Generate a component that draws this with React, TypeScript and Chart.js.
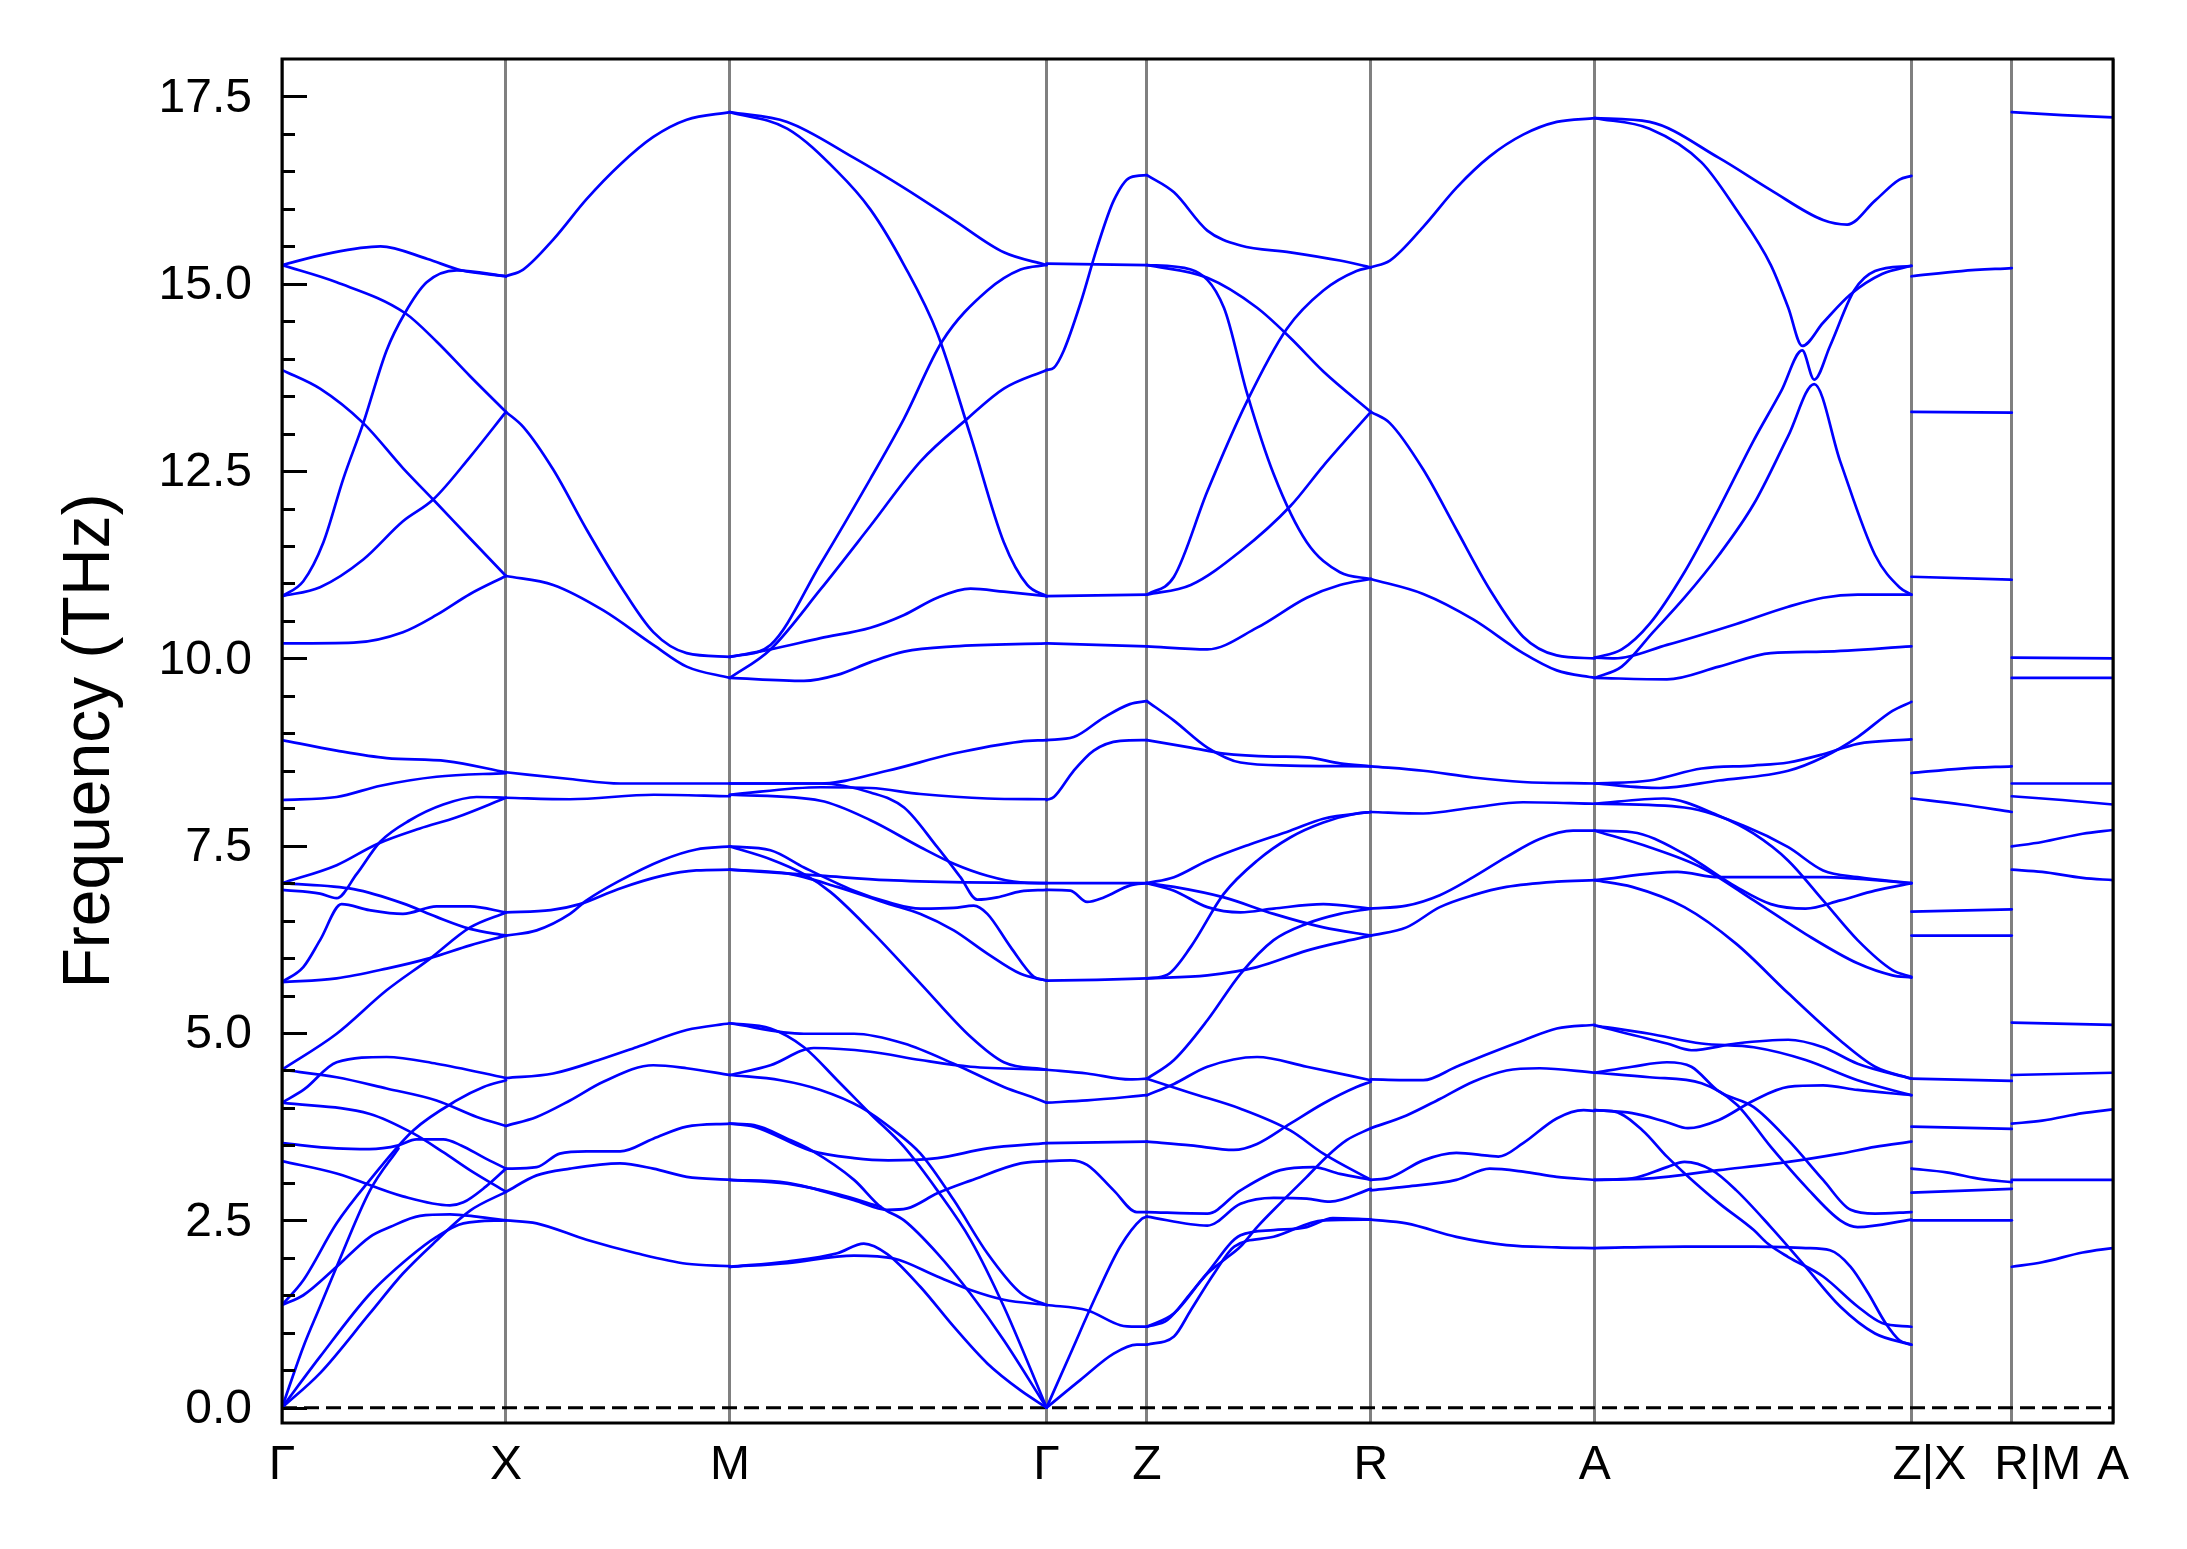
import React, { useEffect, useRef } from 'react';
import { Chart, registerables } from 'chart.js';

Chart.register(...registerables);

// High-symmetry points (path distance) and their labels
const kPoints = [0, 1, 2, 3.414, 3.862, 4.862, 5.862, 7.276, 7.724, 8.176];
const kLabels = ['Γ', 'X', 'M', 'Γ', 'Z', 'R', 'A', 'Z|X', 'R|M', 'A'];
const yMajorTicks = [0, 2.5, 5, 7.5, 10, 12.5, 15, 17.5];
const yMinorStep = 0.5;

// Each curve: [fraction along segment, frequency THz]
const gammaX = [
  [[0, 15.25], [0.2, 15.4], [0.44, 15.5], [0.65, 15.33], [0.8, 15.18], [1, 15.1]],
  [[0, 10.83], [0.095, 11.03], [0.185, 11.55], [0.274, 12.4], [0.363, 13.14], [0.467, 14.11], [0.549, 14.61], [0.646, 15.02], [0.78, 15.18], [1, 15.1]],
  [[0, 15.25], [0.244, 15.02], [0.549, 14.61], [0.69, 14.23], [0.839, 13.77], [1, 13.29]],
  [[0, 13.85], [0.17, 13.6], [0.363, 13.14], [0.54, 12.54], [0.675, 12.12], [0.84, 11.6], [1, 11.1]],
  [[0, 10.83], [0.17, 10.95], [0.363, 11.32], [0.54, 11.83], [0.675, 12.12], [0.84, 12.69], [1, 13.29]],
  [[0, 10.2], [0.32, 10.21], [0.54, 10.35], [0.69, 10.58], [0.84, 10.86], [1, 11.1]],
  [[0, 8.91], [0.244, 8.77], [0.467, 8.67], [0.735, 8.63], [1, 8.48]],
  [[0, 8.11], [0.244, 8.15], [0.44, 8.3], [0.69, 8.42], [1, 8.47]],
  [[0, 7.0], [0.244, 7.24], [0.423, 7.52], [0.616, 7.73], [0.78, 7.88], [1, 8.14]],
  [[0, 6.91], [0.17, 6.86], [0.244, 6.8], [0.333, 7.12], [0.4375, 7.55], [0.571, 7.84], [0.72, 8.05], [0.869, 8.15], [1, 8.14]],
  [[0, 7.0], [0.32, 6.92], [0.54, 6.73], [0.69, 6.55], [0.84, 6.39], [1, 6.3]],
  [[0, 5.68], [0.095, 5.88], [0.17, 6.24], [0.266, 6.72], [0.39, 6.64], [0.54, 6.59], [0.69, 6.69], [0.84, 6.69], [1, 6.61]],
  [[0, 5.68], [0.244, 5.73], [0.467, 5.86], [0.66, 6.0], [0.84, 6.17], [1, 6.3]],
  [[0, 4.51], [0.244, 4.99], [0.467, 5.57], [0.66, 5.99], [0.84, 6.41], [1, 6.61]],
  [[0, 4.07], [0.1, 4.25], [0.244, 4.61], [0.467, 4.68], [0.69, 4.59], [1, 4.4]],
  [[0, 4.51], [0.244, 4.41], [0.467, 4.26], [0.69, 4.1], [0.87, 3.88], [1, 3.76]],
  [[0, 4.07], [0.393, 3.92], [0.586, 3.66], [0.72, 3.41], [0.839, 3.17], [1, 2.88]],
  [[0, 3.53], [0.244, 3.46], [0.39, 3.45], [0.52, 3.5], [0.6, 3.58], [0.72, 3.58], [0.8, 3.5], [0.9, 3.34], [1, 3.19]],
  [[0, 3.29], [0.244, 3.125], [0.54, 2.82], [0.75, 2.7], [0.81, 2.74], [0.91, 2.95], [1, 3.19]],
  [[0, 0], [0.095, 0.81], [0.17, 1.35], [0.244, 1.88], [0.393, 2.9], [0.52, 3.46]],
  [[0, 1.37], [0.095, 1.5], [0.244, 1.88], [0.393, 2.28], [0.482, 2.41], [0.616, 2.56], [0.75, 2.58], [0.869, 2.55], [1, 2.5]],
  [[0, 1.37], [0.095, 1.7], [0.244, 2.46], [0.393, 3.04], [0.586, 3.7], [0.78, 4.1], [0.9, 4.28], [1, 4.37]],
  [[0, 0], [0.17, 0.68], [0.393, 1.52], [0.57, 2.01], [0.69, 2.28], [0.81, 2.46], [1, 2.5]],
  [[0, 0], [0.17, 0.46], [0.393, 1.26], [0.54, 1.79], [0.69, 2.23], [0.84, 2.63], [1, 2.88]],
];

const xM = [
  [[0, 15.1], [0.077, 15.19], [0.211, 15.59], [0.36, 16.13], [0.509, 16.59], [0.658, 16.96], [0.807, 17.19], [1, 17.29]],
  [[0, 13.29], [0.077, 13.09], [0.211, 12.52], [0.36, 11.72], [0.509, 10.98], [0.658, 10.35], [0.807, 10.07], [1, 10.02]],
  [[0, 11.1], [0.211, 10.98], [0.435, 10.64], [0.658, 10.18], [0.807, 9.89], [1, 9.74]],
  [[0, 8.48], [0.286, 8.39], [0.51, 8.33], [1, 8.33]],
  [[0, 8.14], [0.286, 8.12], [0.66, 8.18], [1, 8.16]],
  [[0, 6.61], [0.2, 6.64], [0.33, 6.72], [0.5, 6.92], [0.7, 7.1], [0.85, 7.17], [1, 7.18]],
  [[0, 6.3], [0.137, 6.37], [0.286, 6.59], [0.36, 6.77], [0.5, 7.02], [0.7, 7.31], [0.85, 7.45], [1, 7.49]],
  [[0, 4.4], [0.211, 4.46], [0.435, 4.66], [0.583, 4.81], [0.807, 5.04], [1, 5.13]],
  [[0, 3.76], [0.137, 3.88], [0.286, 4.1], [0.435, 4.35], [0.658, 4.57], [0.807, 4.53], [1, 4.44]],
  [[0, 3.19], [0.137, 3.21], [0.24, 3.39], [0.36, 3.42], [0.51, 3.42], [0.658, 3.59], [0.807, 3.75], [1, 3.79]],
  [[0, 2.88], [0.137, 3.1], [0.286, 3.19], [0.509, 3.26], [0.658, 3.19], [0.807, 3.08], [1, 3.04]],
  [[0, 2.5], [0.137, 2.46], [0.36, 2.24], [0.583, 2.06], [0.807, 1.92], [1, 1.89]],
];

const mGamma = [
  [[0, 17.29], [0.181, 17.16], [0.392, 16.68], [0.55, 16.28], [0.707, 15.85], [0.865, 15.42], [1, 15.25]],
  [[0, 17.29], [0.181, 17.07], [0.339, 16.5], [0.444, 15.99], [0.55, 15.25], [0.655, 14.34], [0.76, 12.97], [0.865, 11.55], [0.939, 10.98], [1, 10.83]],
  [[0, 10.02], [0.128, 10.18], [0.286, 11.26], [0.444, 12.4], [0.55, 13.2], [0.67, 14.23], [0.813, 14.91], [0.918, 15.19], [1, 15.25]],
  [[0, 9.74], [0.128, 10.12], [0.286, 10.92], [0.444, 11.77], [0.602, 12.63], [0.75, 13.2], [0.865, 13.6], [1, 13.85]],
  [[0, 10.02], [0.128, 10.12], [0.286, 10.27], [0.444, 10.41], [0.55, 10.58], [0.655, 10.81], [0.76, 10.93], [0.865, 10.89], [1, 10.83]],
  [[0, 9.74], [0.234, 9.7], [0.339, 9.78], [0.444, 9.95], [0.55, 10.09], [0.707, 10.16], [1, 10.2]],
  [[0, 8.33], [0.286, 8.33], [0.497, 8.5], [0.707, 8.73], [0.918, 8.89], [1, 8.91]],
  [[0, 8.18], [0.286, 8.28], [0.444, 8.27], [0.602, 8.19], [0.813, 8.13], [1, 8.12]],
  [[0, 8.33], [0.286, 8.33], [0.444, 8.21], [0.55, 8.01], [0.655, 7.48], [0.728, 7.08], [0.781, 6.78], [0.844, 6.81], [0.918, 6.89], [1, 6.91]],
  [[0, 8.18], [0.286, 8.1], [0.444, 7.84], [0.602, 7.48], [0.707, 7.26], [0.813, 7.1], [0.918, 7.01], [1, 7.0]],
  [[0, 7.49], [0.128, 7.44], [0.234, 7.21], [0.392, 6.9], [0.497, 6.75], [0.602, 6.66], [0.707, 6.67], [0.77, 6.7], [0.813, 6.59], [0.886, 6.15], [0.96, 5.75], [1, 5.7]],
  [[0, 7.18], [0.286, 7.1], [0.497, 7.04], [0.75, 7.01], [1, 7.0]],
  [[0, 7.49], [0.128, 7.32], [0.234, 7.12], [0.318, 6.88], [0.444, 6.37], [0.602, 5.66], [0.76, 4.95], [0.865, 4.61], [1, 4.51]],
  [[0, 7.18], [0.181, 7.13], [0.339, 6.95], [0.497, 6.73], [0.602, 6.59], [0.707, 6.37], [0.813, 6.06], [0.918, 5.79], [1, 5.7]],
  [[0, 5.13], [0.234, 4.99], [0.392, 4.99], [0.55, 4.86], [0.707, 4.59], [0.865, 4.28], [0.97, 4.12], [1, 4.07]],
  [[0, 5.13], [0.128, 5.06], [0.234, 4.81], [0.339, 4.37], [0.444, 3.92], [0.55, 3.48], [0.655, 2.9], [0.76, 2.24], [0.865, 1.35], [1, 0]],
  [[0, 4.44], [0.128, 4.57], [0.265, 4.8], [0.444, 4.75], [0.602, 4.64], [0.76, 4.55], [1, 4.51]],
  [[0, 4.44], [0.16, 4.37], [0.286, 4.24], [0.413, 4.01], [0.518, 3.7], [0.602, 3.39], [0.707, 2.77], [0.813, 2.06], [0.918, 1.53], [1, 1.37]],
  [[0, 3.79], [0.076, 3.77], [0.181, 3.59], [0.255, 3.44], [0.392, 3.04], [0.476, 2.68], [0.55, 2.5], [0.655, 2.06], [0.76, 1.52], [0.865, 0.9], [1, 0]],
  [[0, 3.79], [0.076, 3.75], [0.255, 3.43], [0.392, 3.33], [0.5, 3.3], [0.655, 3.33], [0.813, 3.46], [1, 3.53]],
  [[0, 3.04], [0.181, 3.0], [0.392, 2.77], [0.497, 2.64], [0.56, 2.66], [0.655, 2.86], [0.76, 3.03], [0.918, 3.26], [1, 3.29]],
  [[0, 3.04], [0.181, 2.99], [0.34, 2.85], [0.476, 2.68]],
  [[0, 1.88], [0.181, 1.95], [0.339, 2.06], [0.423, 2.19], [0.497, 2.05], [0.602, 1.61], [0.707, 1.08], [0.813, 0.59], [0.918, 0.23], [1, 0]],
  [[0, 1.88], [0.181, 1.93], [0.392, 2.03], [0.518, 1.99], [0.655, 1.75], [0.76, 1.57], [0.865, 1.44], [1, 1.37]],
];

const gammaZ = [
  [[0, 15.27], [0.5, 15.26], [1, 15.25]],
  [[0, 13.85], [0.073, 13.88], [0.172, 14.11], [0.338, 14.74], [0.503, 15.48], [0.669, 16.11], [0.834, 16.42], [1, 16.45]],
  [[0, 10.83], [0.5, 10.84], [1, 10.85]],
  [[0, 10.2], [0.5, 10.18], [1, 10.16]],
  [[0, 8.91], [0.27, 8.95], [0.57, 9.21], [0.83, 9.39], [1, 9.43]],
  [[0, 8.11], [0.073, 8.15], [0.27, 8.5], [0.47, 8.77], [0.735, 8.9], [1, 8.91]],
  [[0, 7.0], [0.5, 7.0], [1, 7.0]],
  [[0, 6.91], [0.238, 6.9], [0.404, 6.75], [0.57, 6.81], [0.834, 6.97], [1, 7.0]],
  [[0, 5.7], [0.5, 5.71], [1, 5.73]],
  [[0, 4.51], [0.404, 4.46], [0.834, 4.38], [1, 4.39]],
  [[0, 4.07], [0.404, 4.1], [1, 4.17]],
  [[0, 3.53], [0.5, 3.54], [1, 3.55]],
  [[0, 3.29], [0.238, 3.3], [0.404, 3.24], [0.669, 2.9], [0.9, 2.61], [1, 2.61]],
  [[0, 1.37], [0.404, 1.3], [0.735, 1.1], [0.9, 1.08], [1, 1.08]],
  [[0, 0], [0.238, 0.72], [0.503, 1.52], [0.735, 2.15], [0.95, 2.52], [1, 2.55]],
  [[0, 0], [0.338, 0.37], [0.669, 0.72], [0.9, 0.84], [1, 0.84]],
];

const zR = [
  [[0, 16.45], [0.121, 16.22], [0.27, 15.71], [0.418, 15.51], [0.64, 15.42], [0.862, 15.31], [1, 15.22]],
  [[0, 15.25], [0.196, 15.19], [0.344, 14.68], [0.447, 13.54], [0.566, 12.46], [0.714, 11.55], [0.862, 11.15], [1, 11.06]],
  [[0, 15.25], [0.27, 15.08], [0.492, 14.68], [0.64, 14.28], [0.788, 13.83], [1, 13.29]],
  [[0, 10.85], [0.121, 11.09], [0.27, 12.23], [0.447, 13.43], [0.625, 14.4], [0.788, 14.91], [0.936, 15.17], [1, 15.22]],
  [[0, 10.85], [0.196, 10.98], [0.418, 11.43], [0.64, 12.03], [0.788, 12.57], [1, 13.29]],
  [[0, 10.16], [0.27, 10.12], [0.492, 10.41], [0.714, 10.81], [0.862, 10.98], [1, 11.06]],
  [[0, 9.43], [0.121, 9.17], [0.27, 8.81], [0.418, 8.61], [0.64, 8.57], [1, 8.56]],
  [[0, 8.91], [0.196, 8.81], [0.344, 8.73], [0.566, 8.69], [0.714, 8.68], [0.862, 8.6], [1, 8.56]],
  [[0, 7.0], [0.121, 7.08], [0.27, 7.3], [0.462, 7.52], [0.64, 7.7], [0.788, 7.86], [1, 7.95]],
  [[0, 5.73], [0.092, 5.78], [0.196, 6.15], [0.344, 6.86], [0.492, 7.3], [0.64, 7.61], [0.788, 7.81], [0.936, 7.93], [1, 7.95]],
  [[0, 7.0], [0.121, 6.9], [0.27, 6.68], [0.418, 6.61], [0.566, 6.66], [0.788, 6.72], [1, 6.66]],
  [[0, 7.0], [0.121, 6.95], [0.344, 6.81], [0.566, 6.59], [0.788, 6.41], [1, 6.3]],
  [[0, 5.73], [0.27, 5.77], [0.492, 5.88], [0.714, 6.1], [0.862, 6.21], [1, 6.3]],
  [[0, 4.39], [0.121, 4.64], [0.27, 5.17], [0.418, 5.79], [0.566, 6.24], [0.714, 6.46], [0.862, 6.59], [1, 6.66]],
  [[0, 4.17], [0.121, 4.32], [0.27, 4.55], [0.492, 4.68], [0.714, 4.55], [1, 4.37]],
  [[0, 4.39], [0.196, 4.2], [0.418, 3.99], [0.64, 3.7], [0.788, 3.39], [1, 3.04]],
  [[0, 3.55], [0.196, 3.5], [0.388, 3.44], [0.492, 3.52], [0.64, 3.79], [0.788, 4.06], [0.936, 4.28], [1, 4.35]],
  [[0, 1.08], [0.121, 1.26], [0.27, 1.79], [0.344, 1.97], [0.418, 2.15], [0.492, 2.41], [0.596, 2.73], [0.714, 3.08], [0.803, 3.35], [0.892, 3.57], [1, 3.73]],
  [[0, 2.61], [0.27, 2.59], [0.418, 2.9], [0.596, 3.17], [0.744, 3.21], [0.862, 3.12], [1, 3.04]],
  [[0, 2.55], [0.27, 2.43], [0.418, 2.72], [0.566, 2.8], [0.714, 2.79], [0.818, 2.75], [1, 2.92]],
  [[0, 1.08], [0.092, 1.17], [0.196, 1.53], [0.27, 1.8], [0.418, 2.3], [0.566, 2.37], [0.714, 2.41], [0.83, 2.53], [1, 2.51]],
  [[0, 0.84], [0.121, 0.95], [0.196, 1.3], [0.3, 1.79], [0.39, 2.15], [0.566, 2.28], [0.788, 2.5], [1, 2.51]],
];

const rA = [
  [[0, 15.22], [0.085, 15.31], [0.234, 15.76], [0.382, 16.28], [0.531, 16.7], [0.68, 16.99], [0.83, 17.16], [1, 17.21]],
  [[0, 13.29], [0.085, 13.14], [0.234, 12.52], [0.382, 11.72], [0.531, 10.92], [0.68, 10.29], [0.83, 10.04], [1, 10.0]],
  [[0, 11.06], [0.234, 10.86], [0.457, 10.52], [0.68, 10.07], [0.83, 9.84], [1, 9.74]],
  [[0, 8.56], [0.234, 8.5], [0.457, 8.41], [0.68, 8.35], [1, 8.33]],
  [[0, 7.95], [0.234, 7.93], [0.457, 8.01], [0.68, 8.08], [1, 8.06]],
  [[0, 6.66], [0.159, 6.7], [0.308, 6.84], [0.457, 7.08], [0.606, 7.35], [0.754, 7.59], [0.903, 7.7], [1, 7.7]],
  [[0, 6.3], [0.159, 6.41], [0.308, 6.68], [0.457, 6.84], [0.606, 6.95], [0.83, 7.02], [1, 7.04]],
  [[0, 4.38], [0.234, 4.37], [0.382, 4.55], [0.531, 4.73], [0.68, 4.9], [0.83, 5.06], [1, 5.11]],
  [[0, 3.73], [0.159, 3.9], [0.308, 4.12], [0.457, 4.35], [0.606, 4.5], [0.754, 4.53], [1, 4.47]],
  [[0, 3.04], [0.085, 3.07], [0.234, 3.3], [0.382, 3.4], [0.53, 3.36], [0.57, 3.35], [0.68, 3.53], [0.83, 3.86], [0.95, 3.97], [1, 3.96]],
  [[0, 2.9], [0.159, 2.95], [0.382, 3.04], [0.531, 3.19], [0.68, 3.15], [0.83, 3.08], [1, 3.04]],
  [[0, 2.51], [0.159, 2.46], [0.382, 2.28], [0.606, 2.17], [0.83, 2.14], [1, 2.13]],
];

const aZ = [
  [[0, 17.21], [0.173, 17.07], [0.337, 16.62], [0.447, 15.99], [0.556, 15.25], [0.611, 14.68], [0.655, 14.17], [0.721, 14.48], [0.808, 14.86], [0.907, 15.13], [1, 15.24]],
  [[0, 10.01], [0.085, 10.12], [0.173, 10.46], [0.283, 11.15], [0.392, 12.0], [0.502, 12.91], [0.589, 13.57], [0.655, 14.11], [0.693, 13.72], [0.743, 14.17], [0.819, 14.91], [0.885, 15.17], [1, 15.24]],
  [[0, 9.74], [0.085, 9.89], [0.184, 10.35], [0.283, 10.81], [0.392, 11.38], [0.502, 12.06], [0.611, 12.97], [0.693, 13.66], [0.775, 12.63], [0.885, 11.38], [0.962, 10.95], [1, 10.85]],
  [[0, 17.21], [0.173, 17.16], [0.392, 16.68], [0.556, 16.25], [0.721, 15.85], [0.797, 15.79], [0.885, 16.11], [0.962, 16.39], [1, 16.44]],
  [[0, 10.01], [0.063, 10.0], [0.228, 10.18], [0.447, 10.46], [0.611, 10.69], [0.721, 10.81], [0.83, 10.85], [1, 10.85]],
  [[0, 9.74], [0.228, 9.72], [0.392, 9.89], [0.556, 10.07], [0.721, 10.09], [1, 10.16]],
  [[0, 8.33], [0.206, 8.27], [0.392, 8.37], [0.611, 8.5], [0.721, 8.68], [0.83, 8.95], [0.94, 9.3], [1, 9.42]],
  [[0, 8.33], [0.173, 8.37], [0.337, 8.53], [0.5, 8.57], [0.611, 8.61], [0.721, 8.72], [0.83, 8.86], [1, 8.92]],
  [[0, 8.06], [0.217, 8.13], [0.392, 7.9], [0.502, 7.66], [0.611, 7.3], [0.721, 6.77], [0.83, 6.24], [0.94, 5.84], [1, 5.75]],
  [[0, 8.06], [0.283, 8.01], [0.48, 7.75], [0.611, 7.48], [0.721, 7.17], [0.83, 7.08], [1, 7.0]],
  [[0, 7.7], [0.118, 7.68], [0.283, 7.39], [0.447, 6.95], [0.556, 6.72], [0.666, 6.66], [0.775, 6.77], [0.885, 6.9], [1, 7.0]],
  [[0, 7.7], [0.173, 7.48], [0.337, 7.21], [0.502, 6.77], [0.666, 6.32], [0.83, 5.93], [0.94, 5.77], [1, 5.74]],
  [[0, 7.04], [0.261, 7.15], [0.392, 7.08], [0.721, 7.08], [1, 7.0]],
  [[0, 7.04], [0.118, 6.95], [0.283, 6.68], [0.447, 6.19], [0.611, 5.53], [0.775, 4.9], [0.885, 4.55], [1, 4.39]],
  [[0, 5.1], [0.228, 4.86], [0.305, 4.77], [0.447, 4.86], [0.611, 4.91], [0.721, 4.81], [0.83, 4.59], [1, 4.39]],
  [[0, 5.1], [0.173, 4.99], [0.337, 4.86], [0.502, 4.81], [0.666, 4.64], [0.83, 4.37], [1, 4.17]],
  [[0, 4.47], [0.118, 4.55], [0.228, 4.61], [0.305, 4.55], [0.392, 4.22], [0.502, 4.01], [0.611, 3.57], [0.721, 3.04], [0.808, 2.64], [0.885, 2.59], [1, 2.61]],
  [[0, 4.47], [0.173, 4.41], [0.337, 4.33], [0.447, 4.05], [0.556, 3.48], [0.666, 2.95], [0.775, 2.5], [0.83, 2.41], [1, 2.51]],
  [[0, 3.97], [0.118, 3.93], [0.228, 3.81], [0.294, 3.73], [0.392, 3.84], [0.502, 4.1], [0.611, 4.28], [0.721, 4.3], [0.83, 4.24], [1, 4.17]],
  [[0, 3.97], [0.063, 3.95], [0.151, 3.7], [0.228, 3.35], [0.283, 3.13], [0.392, 2.73], [0.502, 2.37], [0.546, 2.19], [0.611, 2.01], [0.721, 1.75], [0.83, 1.35], [0.907, 1.13], [1, 1.08]],
  [[0, 3.04], [0.118, 3.06], [0.228, 3.21], [0.283, 3.28], [0.37, 3.17], [0.447, 2.9], [0.556, 2.41], [0.666, 1.88], [0.775, 1.35], [0.885, 0.99], [1, 0.84]],
  [[0, 3.04], [0.173, 3.06], [0.392, 3.17], [0.611, 3.28], [0.775, 3.39], [0.885, 3.48], [1, 3.55]],
  [[0, 2.13], [0.283, 2.15], [0.502, 2.15], [0.666, 2.13], [0.743, 2.1], [0.808, 1.88], [0.863, 1.53], [0.918, 1.13], [0.962, 0.9], [1, 0.84]],
];

const xR = [
  [[0, 15.1], [0.5, 15.17], [1, 15.21]],
  [[0, 13.29], [1, 13.28]],
  [[0, 11.09], [1, 11.05]],
  [[0, 8.47], [0.5, 8.53], [1, 8.56]],
  [[0, 8.13], [0.5, 8.05], [1, 7.95]],
  [[0, 6.62], [1, 6.65]],
  [[0, 6.3], [1, 6.3]],
  [[0, 4.39], [1, 4.36]],
  [[0, 3.75], [1, 3.72]],
  [[0, 3.19], [0.35, 3.14], [0.7, 3.05], [1, 3.01]],
  [[0, 2.87], [1, 2.92]],
  [[0, 2.5], [1, 2.5]],
];

const mA = [
  [[0, 17.29], [0.5, 17.25], [1, 17.22]],
  [[0, 10.01], [1, 10.0]],
  [[0, 9.74], [1, 9.74]],
  [[0, 8.33], [1, 8.33]],
  [[0, 8.16], [0.5, 8.11], [1, 8.05]],
  [[0, 7.49], [0.3, 7.55], [0.7, 7.66], [1, 7.71]],
  [[0, 7.18], [0.3, 7.15], [0.7, 7.07], [1, 7.04]],
  [[0, 5.14], [1, 5.11]],
  [[0, 4.44], [1, 4.47]],
  [[0, 3.79], [0.3, 3.83], [0.7, 3.93], [1, 3.98]],
  [[0, 3.04], [1, 3.04]],
  [[0, 1.88], [0.3, 1.94], [0.7, 2.07], [1, 2.13]],
];

// segment: [start k-index, end k-index, curves]
const segments: any[] = [
  [0, 1, gammaX], [1, 2, xM], [2, 3, mGamma], [3, 4, gammaZ], [4, 5, zR],
  [5, 6, rA], [6, 7, aZ], [7, 8, xR], [8, 9, mA],
];

const FONT = "'Liberation Sans', Arial, Helvetica, sans-serif";

const framePlugin = {
  id: 'frameTicks',
  beforeDatasetsDraw(chart: any) {
    const { ctx, chartArea, scales } = chart;
    const y0 = scales.y.getPixelForValue(0);
    ctx.save();
    ctx.beginPath();
    ctx.setLineDash([15, 7]);
    ctx.strokeStyle = '#000';
    ctx.lineWidth = 3;
    ctx.moveTo(chartArea.left, y0);
    ctx.lineTo(chartArea.right, y0);
    ctx.stroke();
    ctx.restore();
  },
  afterDatasetsDraw(chart: any) {
    const { ctx, chartArea, scales } = chart;
    const { left, right, top, bottom } = chartArea;
    ctx.save();
    ctx.strokeStyle = '#000';
    ctx.lineWidth = 3;
    const maxV = yMajorTicks[yMajorTicks.length - 1];
    for (let i = 0; i * yMinorStep <= maxV + 1e-9; i++) {
      const v = i * yMinorStep;
      const isMajor = yMajorTicks.some((m) => Math.abs(m - v) < 1e-9);
      const py = Math.round(scales.y.getPixelForValue(v)) + 0.5;
      ctx.beginPath();
      ctx.moveTo(left, py);
      ctx.lineTo(left + (isMajor ? 25 : 13), py);
      ctx.stroke();
    }
    ctx.strokeRect(left, top, right - left, bottom - top);

    // high-symmetry point labels; compound labels sit slightly right of their line
    ctx.fillStyle = '#000';
    ctx.font = `48px ${FONT}`;
    ctx.textAlign = 'center';
    ctx.textBaseline = 'top';
    kPoints.forEach((k, i) => {
      const lab = kLabels[i];
      const nudge = lab === 'Z|X' ? 18 : lab === 'R|M' ? 26 : 0;
      ctx.fillText(lab, scales.x.getPixelForValue(k) + nudge, bottom + 19);
    });
    ctx.restore();
  },
};

export default function App() {
  const ref = useRef<HTMLCanvasElement>(null);
  useEffect(() => {
    if (!ref.current) return;
    Chart.defaults.font.family = FONT;
    Chart.defaults.color = '#000';
    const datasets: any[] = [];
    segments.forEach(([a, b, curves]) => {
      const x0 = kPoints[a];
      const x1 = kPoints[b];
      curves.forEach((c: number[][]) => {
        datasets.push({
          data: c.map(([t, f]) => ({ x: x0 + t * (x1 - x0), y: f })),
          borderColor: '#0000ff',
          borderWidth: 2.7,
          pointRadius: 0,
          pointHoverRadius: 0,
          fill: false,
          cubicInterpolationMode: 'monotone',
          borderCapStyle: 'round',
          borderJoinStyle: 'round',
        });
      });
    });
    const chart = new Chart(ref.current, {
      type: 'line',
      data: { datasets },
      plugins: [framePlugin],
      options: {
        animation: false,
        responsive: false,
        maintainAspectRatio: false,
        devicePixelRatio: 1,
        events: [],
        layout: { padding: { left: 0, top: 59, right: 74, bottom: 0 } },
        plugins: { legend: { display: false }, tooltip: { enabled: false }, title: { display: false } },
        scales: {
          x: {
            type: 'linear',
            min: kPoints[0],
            max: kPoints[kPoints.length - 1],
            afterBuildTicks: (scale: any) => {
              scale.ticks = kPoints.map((v) => ({ value: v }));
            },
            afterFit: (scale: any) => {
              scale.height = 126;
            },
            ticks: {
              display: false,
              autoSkip: false,
              maxRotation: 0,
              minRotation: 0,
            },
            grid: { display: true, color: '#808080', lineWidth: 3, drawTicks: false },
            border: { display: false },
          },
          y: {
            type: 'linear',
            min: -0.205,
            max: 18.0,
            afterBuildTicks: (scale: any) => {
              scale.ticks = yMajorTicks.map((v) => ({ value: v }));
            },
            afterFit: (scale: any) => {
              scale.width = 282;
            },
            ticks: {
              padding: 30,
              labelOffset: 2,
              font: { size: 48 },
              color: '#000',
              callback: (v: any) => Number(v).toFixed(1),
            },
            grid: { display: false, drawTicks: false },
            border: { display: false },
            title: {
              display: true,
              text: 'Frequency (THz)',
              font: { size: 66 },
              color: '#000',
              padding: { top: 51, bottom: 0 },
            },
          },
        },
      },
    } as any);
    return () => chart.destroy();
  }, []);
  return (
    <canvas
      ref={ref}
      width={2187}
      height={1549}
      style={{ position: 'absolute', left: 0, top: 0, width: '2187px', height: '1549px' }}
    />
  );
}
